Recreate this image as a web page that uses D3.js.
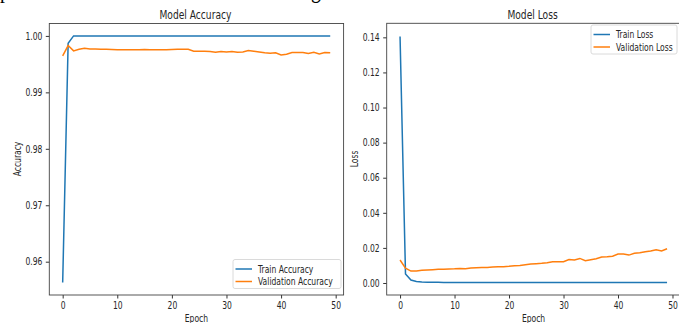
<!DOCTYPE html>
<html>
<head>
<meta charset="utf-8">
<script src="https://cdn.jsdelivr.net/npm/d3@7"></script>
<style>
  body { margin: 0; background: #fff; }
  svg { display: block; }
  text { font-family: "DejaVu Sans", sans-serif; fill: #262626; }
</style>
</head>
<body>
<figure id="charts" style="margin:0"></figure>
<script>
const epochs = d3.range(0, 50);

const trainAcc = [0.9563, 0.9987, 1.0, 1.0, 1.0, 1.0, 1.0, 1.0, 1.0, 1.0,
  1.0, 1.0, 1.0, 1.0, 1.0, 1.0, 1.0, 1.0, 1.0, 1.0,
  1.0, 1.0, 1.0, 1.0, 1.0, 1.0, 1.0, 1.0, 1.0, 1.0,
  1.0, 1.0, 1.0, 1.0, 1.0, 1.0, 1.0, 1.0, 1.0, 1.0,
  1.0, 1.0, 1.0, 1.0, 1.0, 1.0, 1.0, 1.0, 1.0, 1.0];

const valAcc = [0.99647, 0.99829, 0.99735, 0.99764, 0.99782, 0.99770, 0.99770, 0.99764, 0.99764, 0.99759,
  0.99753, 0.99753, 0.99753, 0.99753, 0.99753, 0.99759, 0.99753, 0.99753, 0.99753, 0.99753,
  0.99759, 0.99764, 0.99764, 0.99764, 0.99729, 0.99729, 0.99729, 0.99723, 0.99711, 0.99723,
  0.99717, 0.99723, 0.99711, 0.99717, 0.99741, 0.99729, 0.99717, 0.99700, 0.99694, 0.99700,
  0.99664, 0.99676, 0.99705, 0.99705, 0.99705, 0.99688, 0.99711, 0.99682, 0.99705, 0.99700];

const trainLoss = [0.1405, 0.0052, 0.0017, 0.0008, 0.0005, 0.0004, 0.0004, 0.0004, 0.0003, 0.0003,
  0.0003, 0.0003, 0.0003, 0.0003, 0.0003, 0.0003, 0.0003, 0.0003, 0.0003, 0.0003,
  0.0003, 0.0003, 0.0003, 0.0003, 0.0003, 0.0003, 0.0003, 0.0003, 0.0003, 0.0003,
  0.0003, 0.0003, 0.0003, 0.0003, 0.0003, 0.0003, 0.0003, 0.0003, 0.0003, 0.0003,
  0.0003, 0.0003, 0.0003, 0.0003, 0.0003, 0.0003, 0.0003, 0.0003, 0.0003, 0.0003];

const valLoss = [0.0131, 0.0085, 0.0068, 0.0068, 0.0072, 0.0074, 0.0076, 0.0078, 0.0078, 0.0080,
  0.0081, 0.0083, 0.0081, 0.0085, 0.0087, 0.0089, 0.0089, 0.0091, 0.0093, 0.0093,
  0.0095, 0.0098, 0.0100, 0.0104, 0.0108, 0.0110, 0.0112, 0.0116, 0.0121, 0.0121,
  0.0121, 0.0134, 0.0131, 0.0140, 0.0127, 0.0133, 0.0138, 0.0148, 0.0150, 0.0153,
  0.0165, 0.0165, 0.0159, 0.0169, 0.0172, 0.0178, 0.0182, 0.0189, 0.0182, 0.0195];

const xTicks = [0, 10, 20, 30, 40, 50];
const accTicks = [0.96, 0.97, 0.98, 0.99, 1.00];
const lossTicks = [0.00, 0.02, 0.04, 0.06, 0.08, 0.10, 0.12, 0.14];

const blue = "#1f77b4", orange = "#ff7f0e";
const W = 679, H = 323;

const svg = d3.select("#charts").append("svg")
  .attr("width", W).attr("height", H);

// leftover descenders of the document text above the figure
svg.append("text").attr("x", 0).attr("y", -2)
  .style("font-family", "Liberation Serif").style("font-size", "26px").style("fill", "#000")
  .text("p");
svg.append("text").attr("x", 311).attr("y", -2)
  .style("font-family", "Liberation Serif").style("font-size", "26px").style("fill", "#000")
  .text("g");

function drawPanel(cfg) {
  const x = d3.scaleLinear().domain([-2.45, 51.45]).range([cfg.left, cfg.right]);
  const y = d3.scaleLinear().domain(cfg.yDomain).range([295, cfg.top]);

  const g = svg.append("g");

  const xAxis = g.append("g")
    .attr("transform", "translate(0,295)")
    .call(d3.axisBottom(x).tickValues(xTicks).tickSize(3.5).tickPadding(3.5).tickFormat(d3.format("d")));
  const yAxis = g.append("g")
    .attr("transform", "translate(" + cfg.left + ",0)")
    .call(d3.axisLeft(y).tickValues(cfg.yTicks).tickSize(3.5).tickPadding(3.5).tickFormat(d3.format(".2f")));

  [xAxis, yAxis].forEach(a => {
    a.select(".domain").remove();
    a.selectAll("line").attr("stroke", "#333");
    a.selectAll("text").style("font-size", "10px").style("fill", "#262626")
      .style("font-family", "DejaVu Sans");
  });

  const line = d3.line().x((d, i) => x(epochs[i])).y(d => y(d));

  g.append("path").datum(cfg.train)
    .attr("fill", "none").attr("stroke", blue).attr("stroke-width", 1.5)
    .attr("d", line);
  g.append("path").datum(cfg.val)
    .attr("fill", "none").attr("stroke", orange).attr("stroke-width", 1.5)
    .attr("d", line);

  // axes frame
  g.append("rect")
    .attr("x", cfg.left).attr("y", cfg.top)
    .attr("width", cfg.right - cfg.left).attr("height", 295 - cfg.top)
    .attr("fill", "none").attr("stroke", "#444").attr("stroke-width", 0.9);

  g.append("text")
    .attr("x", (cfg.left + cfg.right) / 2 - 1).attr("y", 19)
    .attr("text-anchor", "middle").style("font-size", "12px")
    .text(cfg.title);

  g.append("text")
    .attr("x", (cfg.left + cfg.right) / 2).attr("y", 322)
    .attr("text-anchor", "middle").style("font-size", "10px")
    .text("Epoch");

  g.append("text")
    .attr("transform", "translate(" + cfg.ylabX + ",159) rotate(-90)")
    .attr("text-anchor", "middle").style("font-size", "10px")
    .text(cfg.ylabel);

  // legend
  const lg = g.append("g").attr("transform", "translate(" + cfg.legX + "," + cfg.legY + ")");
  lg.append("rect")
    .attr("width", cfg.legW).attr("height", 29).attr("rx", 2)
    .attr("fill", "#fff").attr("fill-opacity", 0.8)
    .attr("stroke", "#d6d6d6").attr("stroke-width", 0.9);
  [[cfg.names[0], blue], [cfg.names[1], orange]].forEach((d, i) => {
    const yy = 9.5 + i * 12.5;
    lg.append("line").attr("x1", 2.5).attr("x2", 19).attr("y1", yy).attr("y2", yy)
      .attr("stroke", d[1]).attr("stroke-width", 1.5);
    lg.append("text").attr("x", 25).attr("y", yy + 3.5)
      .style("font-size", "10px").text(d[0]);
  });
}

drawPanel({
  left: 49.3, right: 343.6, top: 23.5,
  yDomain: [0.9541, 1.0022], yTicks: accTicks,
  train: trainAcc, val: valAcc,
  title: "Model Accuracy", ylabel: "Accuracy", ylabX: 20.5,
  names: ["Train Accuracy", "Validation Accuracy"],
  legX: 233, legY: 259.5, legW: 108
});

drawPanel({
  left: 386.7, right: 680.4, top: 23.3,
  yDomain: [-0.00684, 0.148], yTicks: lossTicks,
  train: trainLoss, val: valLoss,
  title: "Model Loss", ylabel: "Loss", ylabX: 358,
  names: ["Train Loss", "Validation Loss"],
  legX: 591, legY: 25, legW: 86
});

// the source image is squeezed horizontally; narrow every label to match
svg.selectAll("text").each(function () {
  const len = this.getComputedTextLength();
  d3.select(this).attr("textLength", len * 0.76).attr("lengthAdjust", "spacingAndGlyphs");
});
</script>
</body>
</html>
